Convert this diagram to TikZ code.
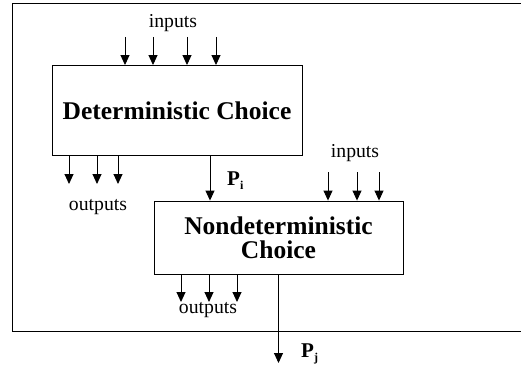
\documentclass[tikz,border=0pt]{standalone}
\usepackage{fontspec}
\setmainfont{Liberation Serif}
\usetikzlibrary{positioning, arrows.meta}

\begin{document}
\begin{tikzpicture}[
  x = 1pt, y = -1pt,
  box/.style = {draw, rectangle, line width=0.9pt, align=center,
                font=\fontsize{25.5}{24}\selectfont\bfseries},
  lbl/.style = {anchor=base, font=\fontsize{19.7}{22}\selectfont},
  plbl/.style = {anchor=base west, inner sep=0pt, font=\fontsize{21}{22}\selectfont\bfseries},
  arr/.style = {-{Triangle[width=9pt,length=10pt]}, line width=0.9pt}
]

\useasboundingbox (0,0) rectangle (521,369);
\draw[line width=1pt] (525,3.5) -| (12.5,331) -- (525,331);   % frame, open to the right

\node[box, minimum width=250pt, minimum height=90pt] (det) at (177,110.5) {Deterministic Choice};
\node[box, minimum width=249pt, minimum height=73pt] (nondet) at (278.5,237.5) {Nondeterministic\\Choice};

% inputs and outputs of the deterministic part
\node[lbl] (detin) at (173,28) {inputs};
\foreach \x in {125,153,187,216} {
  \coordinate (in) at (\x,37);
  \draw[arr] (in) -- (in |- det.north);
}
\foreach \x in {69,97,118} {
  \coordinate (out) at (\x,184);
  \draw[arr] (out |- det.south) -- (out);
}
\node[lbl] (detout) at (98,210) {outputs};

% P_i handed on
\coordinate (pi) at (210,0);
\draw[arr] (pi |- det.south) -- (pi |- nondet.north);
\node[plbl] (pilbl) at (227,185) {P\raisebox{-4pt}{\fontsize{12}{12}\selectfont i}};

% inputs and outputs of the nondeterministic part
\node[lbl] (ndin) at (355,157) {inputs};
\foreach \x in {328,357,379} {
  \coordinate (in) at (\x,172);
  \draw[arr] (in) -- (in |- nondet.north);
}
\foreach \x in {181,209,237} {
  \coordinate (out) at (\x,302);
  \draw[arr] (out |- nondet.south) -- (out);
}
\node[lbl] (ndout) at (208,313) {outputs};

% P_j leaves the frame
\coordinate (pj) at (278.5,363);
\draw[arr] (nondet.south) -- (pj);
\node[plbl] (pjlbl) at (301,357) {P\raisebox{-4pt}{\fontsize{12}{12}\selectfont j}};

\end{tikzpicture}
\end{document}
